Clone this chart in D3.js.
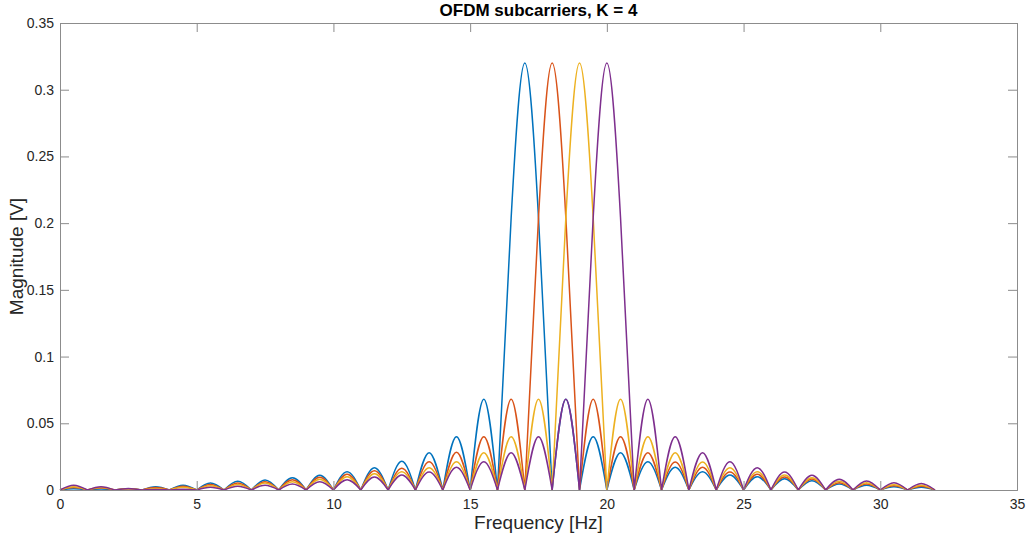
<!DOCTYPE html>
<html>
<head>
<meta charset="utf-8">
<script src="https://cdn.jsdelivr.net/npm/d3@7"></script>
<style>
  body { margin: 0; background: #fff; }
  svg { display: block; font-family: "Liberation Sans", Arial, sans-serif; }
</style>
</head>
<body>
<script>
// sous-porteuses : fréquence centrale et couleur
const centres = [17, 18, 19, 20];
const couleurs = ["#0072BD", "#D95319", "#EDB120", "#7E2F8E"];
const crete = 0.32;      // sommet du lobe principal
const demiLobe = 0.204;  // valeur à fc +/- 0.5

// hauteur des lobes secondaires entre n et n+1 (null = lobe principal)
const lobesBleu = [0.001, 0.0008, 0.001, 0.0025, 0.0035, 0.0052, 0.0065, 0.0075, 0.0092, 0.011,
  0.0137, 0.0167, 0.0215, 0.028, 0.040, 0.068, null, null, 0.068, 0.040,
  0.028, 0.0212, 0.017, 0.0137, 0.0112, 0.010, 0.0085, 0.007, 0.0045, 0.0035, 0.0025, 0.002];
const lobesRouge = [0.0018, 0.0015, 0.001, 0.0018, 0.0028, 0.0042, 0.0052, 0.0062, 0.0077, 0.0095,
  0.0118, 0.0145, 0.0163, 0.0212, 0.0283, 0.040, 0.068, null, null, 0.068,
  0.040, 0.028, 0.021, 0.017, 0.0135, 0.0118, 0.0097, 0.0082, 0.0055, 0.0045, 0.0032, 0.0028];
const lobesJaune = [0.0025, 0.0018, 0.001, 0.0012, 0.002, 0.0032, 0.0042, 0.0052, 0.0062, 0.008,
  0.010, 0.0122, 0.0137, 0.0167, 0.0212, 0.028, 0.040, 0.068, null, null,
  0.068, 0.040, 0.028, 0.021, 0.0167, 0.0137, 0.0112, 0.0092, 0.0065, 0.0055, 0.004, 0.0035];
const lobesViolet = [0.0035, 0.0025, 0.0012, 0.0003, 0.0005, 0.002, 0.0028, 0.0035, 0.0045, 0.0062,
  0.0077, 0.0097, 0.0112, 0.0135, 0.017, 0.0212, 0.028, 0.040, 0.068, null,
  null, 0.068, 0.040, 0.028, 0.0212, 0.0167, 0.0135, 0.011, 0.008, 0.0068, 0.0055, 0.0048];
const lobes = [lobesBleu, lobesRouge, lobesJaune, lobesViolet];

const xTicks = [0, 5, 10, 15, 20, 25, 30, 35];
const yTicks = [0, 0.05, 0.1, 0.15, 0.2, 0.25, 0.3, 0.35];

const width = 1028, height = 540;
const marges = { top: 23, right: 11, bottom: 50, left: 60 };
const gris = "#262626";

const svg = d3.select("body").append("svg")
  .attr("width", width)
  .attr("height", height);

const x = d3.scaleLinear().domain([0, 35]).range([marges.left, width - marges.right]);
const y = d3.scaleLinear().domain([0, 0.35]).range([height - marges.bottom, marges.top]);

// courbes : un segment de spline par lobe, pour garder les pointes aux zéros
const ligne = d3.line()
  .x(d => x(d[0]))
  .y(d => y(d[1]))
  .curve(d3.curveNatural);

lobes.forEach(function(tab, i) {
  const fc = centres[i];
  let chemin = "";
  tab.forEach(function(h, n) {
    if (h === null) {
      if (n === fc - 1) {
        chemin += ligne([[fc - 1, 0], [fc - 0.5, demiLobe], [fc, crete], [fc + 0.5, demiLobe], [fc + 1, 0]]);
      }
      return;
    }
    chemin += ligne([[n, 0], [n + 0.5, h], [n + 1, 0]]);
  });
  svg.append("path")
    .attr("d", chemin)
    .attr("fill", "none")
    .attr("stroke", couleurs[i])
    .attr("stroke-width", 1.5)
    .attr("stroke-linejoin", "round");
});

// axes façon matlab, avec boîte et graduations intérieures
const tick = 9;
const axeX = svg.append("g")
  .attr("transform", "translate(0," + y(0) + ")")
  .call(d3.axisBottom(x).tickValues(xTicks).tickSize(-tick).tickPadding(9).tickFormat(d3.format("d")));
const axeXhaut = svg.append("g")
  .attr("transform", "translate(0," + y(0.35) + ")")
  .call(d3.axisTop(x).tickValues(xTicks).tickSize(-tick).tickFormat(""));
const axeY = svg.append("g")
  .attr("transform", "translate(" + x(0) + ",0)")
  .call(d3.axisLeft(y).tickValues(yTicks).tickSize(-tick).tickPadding(6).tickFormat(d => d === 0 ? "0" : String(+d.toFixed(2))));
const axeYdroite = svg.append("g")
  .attr("transform", "translate(" + x(35) + ",0)")
  .call(d3.axisRight(y).tickValues(yTicks).tickSize(-tick).tickFormat(""));

[axeX, axeXhaut, axeY, axeYdroite].forEach(function(a) {
  a.select(".domain").attr("stroke", "#8c8c8c").attr("stroke-width", 1);
  a.selectAll(".tick line").attr("stroke", "#8c8c8c");
  a.selectAll(".tick text").attr("fill", gris).style("font-size", "14px").style("font-family", "Liberation Sans, Arial, sans-serif");
});

// titre et libellés
svg.append("text")
  .attr("x", (x(0) + x(35)) / 2)
  .attr("y", 16)
  .attr("text-anchor", "middle")
  .style("font-size", "17px")
  .style("font-weight", "bold")
  .attr("fill", "#000")
  .text("OFDM subcarriers, K = 4");

svg.append("text")
  .attr("x", (x(0) + x(35)) / 2)
  .attr("y", 529)
  .attr("text-anchor", "middle")
  .style("font-size", "19px")
  .attr("fill", gris)
  .text("Frequency [Hz]");

svg.append("text")
  .attr("transform", "translate(23," + (y(0.175)) + ") rotate(-90)")
  .attr("text-anchor", "middle")
  .style("font-size", "19px")
  .attr("fill", gris)
  .text("Magnitude [V]");
</script>
</body>
</html>
